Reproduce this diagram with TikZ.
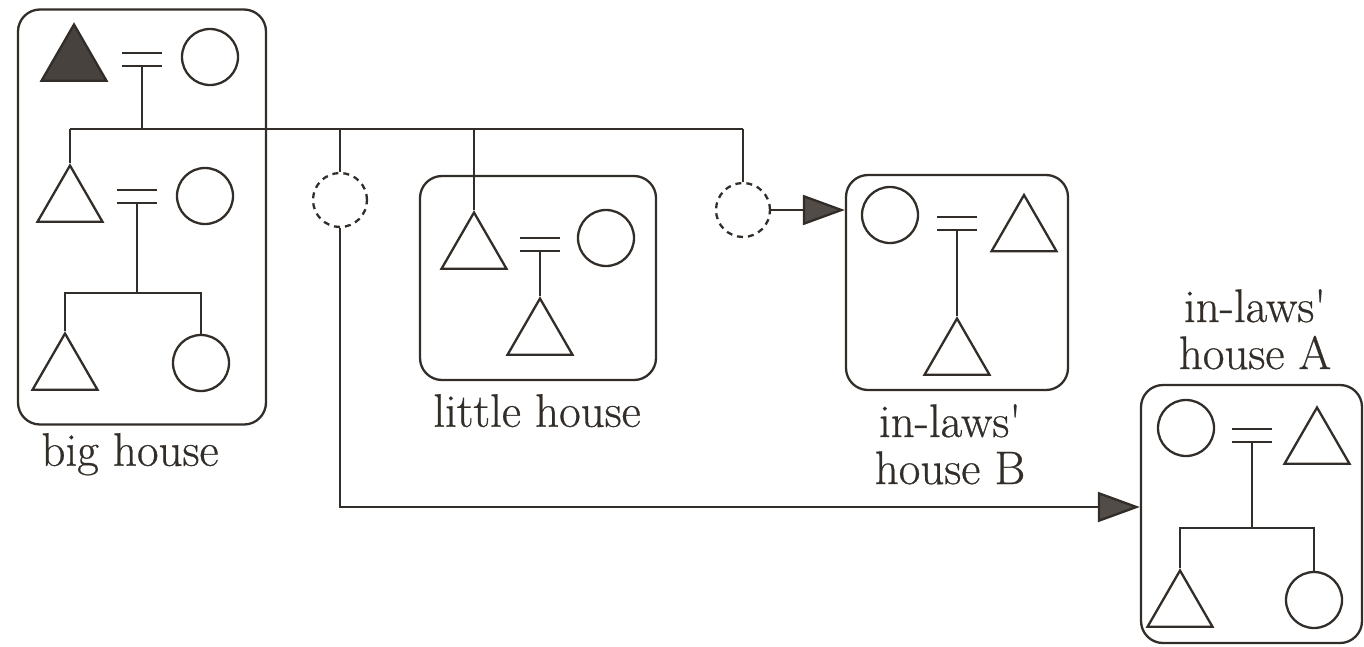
\documentclass[tikz,border=0pt]{standalone}
\usepackage{fontspec}
\newfontfamily\lblfont{Latin Modern Roman}[FakeBold=0.6]
\usetikzlibrary{shapes.geometric,arrows.meta,calc}
\definecolor{ink}{RGB}{50,45,40}
\tikzset{
  tri/.style={regular polygon, regular polygon sides=3, draw, inner sep=0pt, minimum size=75pt},
  circ/.style={circle, draw, inner sep=0pt, minimum size=56pt},
  dcirc/.style={circle, draw, inner sep=0pt, minimum size=54pt, dash pattern=on 6pt off 5pt},
  house/.style={draw, rounded corners=22pt, inner sep=0pt},
  lbl/.style={font=\lblfont\fontsize{47}{47}\selectfont, align=center, inner sep=0pt},
  arr/.style={-{Triangle[length=42pt,width=30pt,fill=ink!85]}}
}
\newcommand\marrylines[1]{\draw ($(#1)+(-20,-6.5)$) -- ($(#1)+(20,-6.5)$) ($(#1)+(-20,6.5)$) -- ($(#1)+(20,6.5)$);}
\begin{document}
\begin{tikzpicture}[x=1pt,y=-1pt,line width=2.3pt,color=ink]
\useasboundingbox (0,0) rectangle (1364,646);

% big house
\node[house, minimum width=248pt, minimum height=415pt] (bigh) at (142,217) {};
\node[tri, fill=ink!90] (f1) at (74,62) {};
\node[circ] (m1) at (210,57) {};
\coordinate (e1) at (142,59.5);
\marrylines{e1}
\coordinate (L1) at (70,129);
\coordinate (L2) at (743,129);
\draw (L1) -- (L2);
\draw ($(e1)+(0,6.5)$) -- (e1 |- L1);
\node[tri] (s1) at (70,203) {};
\node[circ] (w1) at (205,196) {};
\draw (L1) -- (s1.north);
\coordinate (e2) at (137,196.5);
\marrylines{e2}
\coordinate (k1) at (137,293);
\draw ($(e2)+(0,6.5)$) -- (k1);
\node[tri] (c1) at (65,371) {};
\node[circ] (c2) at (201,363) {};
\draw (c1.north) -- (c1.north |- k1) -- (c2.north |- k1) -- (c2.north);
\node[lbl, anchor=north] (bhl) at (130,432) {big house};

% dashed child 1
\node[dcirc] (d1) at (340,200) {};
\draw (d1.north) -- (d1 |- L1);

% little house
\node[house, minimum width=236pt, minimum height=204pt] (lh) at (538,278) {};
\node[tri] (lt) at (474,250) {};
\draw (lt.north) -- (lt |- L1);
\node[circ] (lw) at (606,238) {};
\coordinate (e3) at (540,244.5);
\marrylines{e3}
\node[tri] (lc) at (540,336) {};
\draw ($(e3)+(0,6.5)$) -- (lc.north);
\node[lbl, anchor=north] (lhl) at (537,393) {little house};

% dashed child 2
\node[dcirc] (d2) at (743,210) {};
\draw (L2) -- (d2.north);

% in-laws' house B
\node[house, minimum width=222pt, minimum height=215pt] (hb) at (957,282.5) {};
\node[circ] (bw) at (890,215) {};
\coordinate (e4) at (957,223.5);
\marrylines{e4}
\node[tri] (bt) at (1024,232.5) {};
\node[tri] (bc) at (957,356) {};
\draw ($(e4)+(0,6.5)$) -- (bc.north);
\node[lbl, anchor=north] (hbl) at (950,403) {in-laws\textquotesingle\\house B};
\draw[arr] (d2.east) -- (d2.east -| hb.west);

% in-laws' house A
\node[house, minimum width=221pt, minimum height=258pt] (ha) at (1251.5,514) {};
\node[circ] (aw) at (1186,428) {};
\coordinate (e5) at (1252,435.5);
\marrylines{e5}
\node[tri] (at) at (1317,445) {};
\coordinate (k2) at (1252,528);
\draw ($(e5)+(0,6.5)$) -- (k2);
\node[tri] (ac) at (1180,608) {};
\node[circ] (ac2) at (1314,600) {};
\draw (ac.north) -- (ac.north |- k2) -- (ac2.north |- k2) -- (ac2.north);
\node[lbl, anchor=north] (hal) at (1255,288) {in-laws\textquotesingle\\house A};
\draw[arr] (d1.south) |- ([yshift=7pt]ha.west);
\end{tikzpicture}
\end{document}
